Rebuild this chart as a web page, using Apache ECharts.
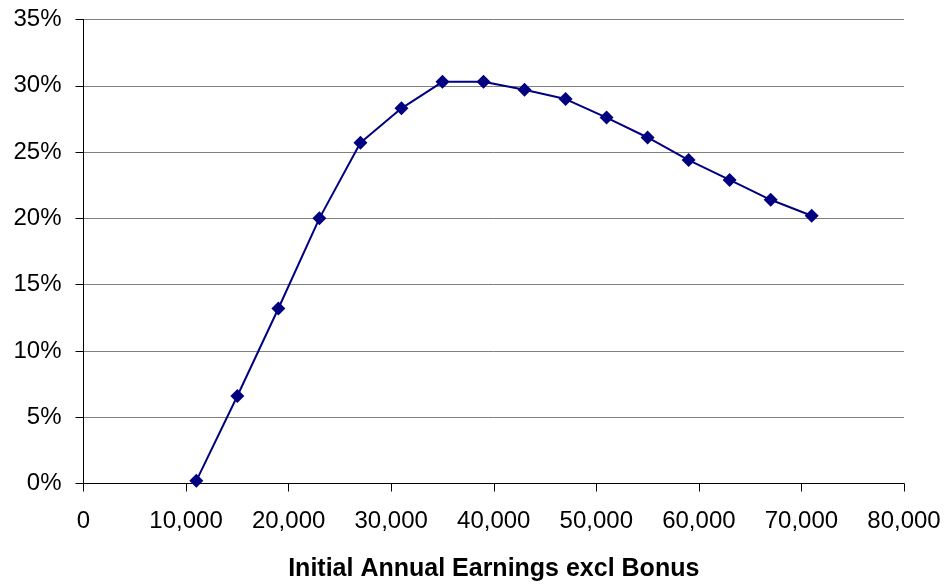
<!DOCTYPE html>
<html>
<head>
<meta charset="utf-8">
<style>
  html, body { margin: 0; padding: 0; background: #fff; }
  #chart { width: 948px; height: 587px; }
</style>
<script src="https://cdn.jsdelivr.net/npm/echarts@6/dist/echarts.min.js"></script>
</head>
<body>
<div id="chart"></div>
<script>
// Initial annual earnings (excl. bonus) and the matching percentage
const earnings = [11000, 15000, 19000, 23000, 27000, 31000, 35000, 39000,
                  43000, 47000, 51000, 55000, 59000, 63000, 67000, 71000];
const percentValues = [0.2, 6.6, 13.2, 20.0, 25.7, 28.3, 30.3, 30.3,
                       29.7, 29.0, 27.6, 26.1, 24.4, 22.9, 21.4, 20.2];
const xAxisTitle = 'Initial Annual Earnings excl Bonus';

const FONT = '"Liberation Sans", Arial, sans-serif';

const chart = echarts.init(document.getElementById('chart'), null, { renderer: 'canvas' });

chart.setOption({
  animation: false,
  backgroundColor: '#ffffff',
  grid: {
    left: 83.5, right: 44, top: 19.5, bottom: 103.5,
    containLabel: false,
    outerBoundsMode: 'none'
  },
  xAxis: {
    type: 'value',
    min: 0,
    max: 80000,
    interval: 10000,
    name: xAxisTitle,
    nameLocation: 'middle',
    nameGap: 73,
    nameTextStyle: { fontFamily: FONT, fontSize: 25, fontWeight: 'bold', color: '#000' },
    axisLine: { show: true, lineStyle: { color: '#000', width: 1 } },
    axisTick: { show: true, inside: false, length: 8, lineStyle: { color: '#000' } },
    axisLabel: {
      fontFamily: FONT, fontSize: 24, color: '#000', margin: 26,
      formatter: v => v.toLocaleString('en-US')
    },
    splitLine: { show: false }
  },
  yAxis: {
    type: 'value',
    min: 0,
    max: 35,
    interval: 5,
    axisLine: { show: true, lineStyle: { color: '#000', width: 1 } },
    axisTick: { show: true, inside: false, length: 8, lineStyle: { color: '#000' } },
    axisLabel: { fontFamily: FONT, fontSize: 24, color: '#000', margin: 22, formatter: '{value}%' },
    splitLine: { show: true, lineStyle: { color: '#808080', width: 1 } }
  },
  series: [{
    type: 'line',
    data: earnings.map((x, i) => [x, percentValues[i]]),
    symbol: 'diamond',
    symbolSize: 14,
    showAllSymbol: true,
    lineStyle: { color: '#000080', width: 2 },
    itemStyle: { color: '#000080' }
  }]
});
</script>
</body>
</html>
